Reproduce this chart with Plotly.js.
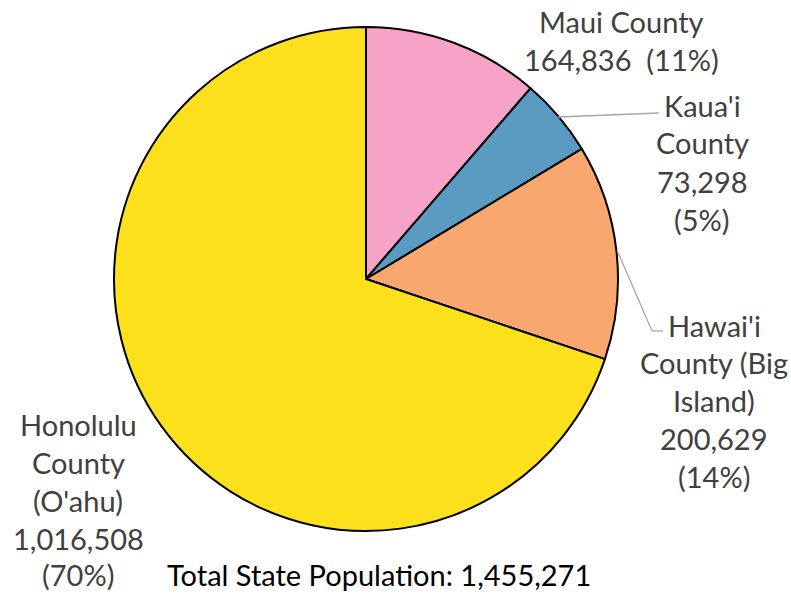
<!DOCTYPE html>
<html><head><meta charset="utf-8">
<script src="https://cdn.plot.ly/plotly-3.0.1.min.js"></script>
<style>html,body{margin:0;padding:0;background:#fff}#chart{width:791px;height:594px}</style>
</head><body><div id="chart"></div>
<script>
const counties = ["Maui County", "Kaua'i County", "Hawai'i County (Big Island)", "Honolulu County (O'ahu)"];
const populations = [164836, 73298, 200629, 1016508];
const colors = ["#F7A3C7", "#5B9BC1", "#F8A86E", "#FDE01C"];
const totalLabel = "Total State Population: ";

const W = 791, H = 594;
const FONT = "Lato, 'Open Sans', sans-serif";
const total = populations.reduce((a, b) => a + b, 0);
const fmt = v => v.toLocaleString("en-US");
const pct = v => Math.round(v / total * 100) + "%";

const labelLines = [
  ["Maui County", fmt(populations[0]) + "  (" + pct(populations[0]) + ")"],
  ["Kaua'i", "County", fmt(populations[1]), "(" + pct(populations[1]) + ")"],
  ["Hawai'i", "County (Big", "Island)", fmt(populations[2]), "(" + pct(populations[2]) + ")"],
  ["Honolulu", "County", "(O'ahu)", fmt(populations[3]), "(" + pct(populations[3]) + ")"]
];
const labelPos = [
  {x: 621, y: [22, 60]},
  {x: 702, y: [105, 143, 181, 219]},
  {x: 714, y: [325, 362, 400, 438, 476]},
  {x: 78, y: [424, 462, 500, 538, 574]}
];

const px = x => x / W, py = y => 1 - y / H;
const annotations = [];
labelLines.forEach((lines, i) => {
  lines.forEach((ln, j) => {
    annotations.push({
      xref: "paper", yref: "paper", x: px(labelPos[i].x), y: py(labelPos[i].y[j]),
      xanchor: "center", yanchor: "middle", showarrow: false,
      text: ln, font: {family: FONT, size: 29, color: "#404040"}
    });
  });
});
annotations.push({
  xref: "paper", yref: "paper", x: px(379), y: 0, xanchor: "center", yanchor: "bottom",
  showarrow: false, text: totalLabel + fmt(total), font: {family: FONT, size: 29, color: "#000000"}
});

const leader = {color: "#A6A6A6", width: 1.3};
const cx = 366, cy = 279, r = 252;
const trace = {
  type: "pie", values: populations, labels: counties, sort: false, direction: "clockwise", rotation: 0,
  marker: {colors: colors, line: {color: "#000000", width: 2}},
  textinfo: "none", hoverinfo: "none", showlegend: false,
  domain: {x: [px(cx - r), px(cx + r)], y: [py(cy + r), py(cy - r)]}
};

const layout = {
  width: W, height: H, margin: {l: 0, r: 0, t: 0, b: 0},
  paper_bgcolor: "#ffffff", plot_bgcolor: "#ffffff", showlegend: false,
  annotations: annotations,
  shapes: [
    {type: "line", xref: "paper", yref: "paper", x0: px(558), y0: py(117), x1: px(659), y1: py(113), line: leader},
    {type: "line", xref: "paper", yref: "paper", x0: px(617), y0: py(250), x1: px(652), y1: py(331), line: leader},
    {type: "line", xref: "paper", yref: "paper", x0: px(652), y0: py(331), x1: px(663), y1: py(331), line: leader}
  ]
};
Plotly.newPlot("chart", [trace], layout, {staticPlot: true, displayModeBar: false});
</script></body></html>
